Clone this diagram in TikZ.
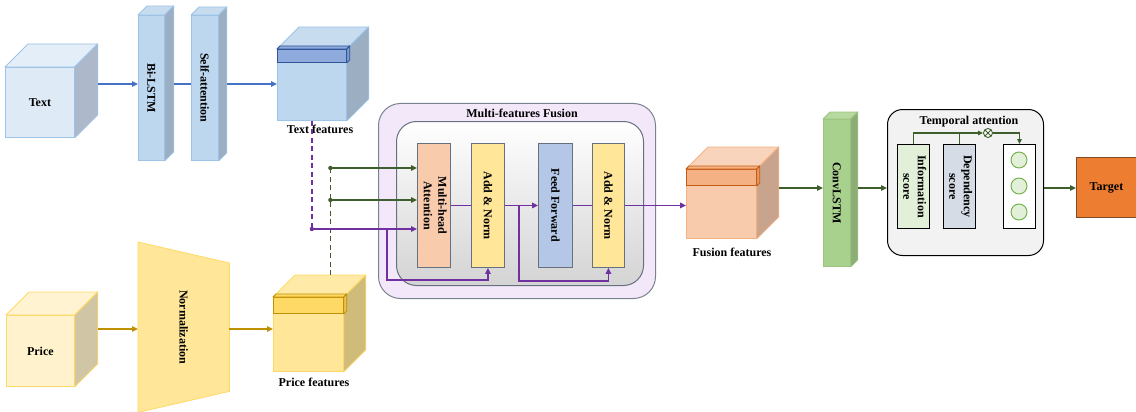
\documentclass[tikz,border=0pt]{standalone}
\usepackage{fontspec}
\setmainfont{Liberation Serif}
\usetikzlibrary{arrows.meta,backgrounds}

% palette
\definecolor{flowBlue}{HTML}{4472C4}
\definecolor{flowGold}{HTML}{BF9000}
\definecolor{flowPurple}{HTML}{7030A0}
\definecolor{flowGreen}{HTML}{3E5F2C}
\definecolor{txFront}{HTML}{DEEBF7}
\definecolor{txTop}{HTML}{E4EEF8}
\definecolor{txSide}{HTML}{ADB9CA}
\definecolor{txBorder}{HTML}{9DC3E6}
\definecolor{lyFront}{HTML}{BDD7EE}
\definecolor{lyTop}{HTML}{C8DCF0}
\definecolor{lySide}{HTML}{9BAEC2}
\definecolor{bandBlue}{HTML}{8FAADC}
\definecolor{bandBlueSide}{HTML}{7F9BD0}
\definecolor{bandBlueBorder}{HTML}{2F5597}
\definecolor{prFront}{HTML}{FFF2CC}
\definecolor{prTop}{HTML}{FFF3D1}
\definecolor{prSide}{HTML}{D0C6A5}
\definecolor{prBorder}{HTML}{FFD966}
\definecolor{nmFill}{HTML}{FFE699}
\definecolor{pfFront}{HTML}{FFE699}
\definecolor{pfTop}{HTML}{FFEAA8}
\definecolor{pfSide}{HTML}{CFBB7A}
\definecolor{bandGold}{HTML}{FFD966}
\definecolor{bandGoldSide}{HTML}{E8C250}
\definecolor{fuFront}{HTML}{F8CBAD}
\definecolor{fuTop}{HTML}{F9D4BC}
\definecolor{fuSide}{HTML}{C8A48C}
\definecolor{fuBorder}{HTML}{F4B183}
\definecolor{bandOrange}{HTML}{F4B183}
\definecolor{bandOrangeSide}{HTML}{E39A68}
\definecolor{bandOrangeBorder}{HTML}{C55A11}
\definecolor{cvFront}{HTML}{A9D18E}
\definecolor{cvTop}{HTML}{B6D99F}
\definecolor{cvSide}{HTML}{8CAD76}
\definecolor{cvBorder}{HTML}{9CC57F}
\definecolor{mffOuter}{HTML}{F3E7FA}
\definecolor{mffBorder}{HTML}{7A8290}
\definecolor{blkBorder}{HTML}{66707E}
\definecolor{mhaFill}{HTML}{F8CBAD}
\definecolor{anFill}{HTML}{FFE699}
\definecolor{ffFill}{HTML}{B4C7E7}
\definecolor{infoFill}{HTML}{E2F0D9}
\definecolor{depFill}{HTML}{D6DCE5}
\definecolor{ringBorder}{HTML}{70AD47}
\definecolor{taFill}{HTML}{F2F2F2}
\definecolor{targetFill}{HTML}{ED7D31}
\definecolor{targetBorder}{HTML}{7F4A26}

% top and right faces of a box whose front face is the node #1
% #2 depth, #3 top colour, #4 side colour, #5 edge colour
\newcommand\solidfaces[5]{%
  \filldraw[fill=#3, draw=#5, line width=0.8pt, line join=round]
    (#1.north west) -- ([shift={(#2,-#2)}]#1.north west)
    -- ([shift={(#2,-#2)}]#1.north east) -- (#1.north east) -- cycle;
  \filldraw[fill=#4, draw=#5, line width=0.8pt, line join=round]
    (#1.north east) -- ([shift={(#2,-#2)}]#1.north east)
    -- ([shift={(#2,-#2)}]#1.south east) -- (#1.south east) -- cycle;
}

\tikzset{
  frontface/.style={draw=#1, line width=0.8pt, inner sep=0pt, anchor=north west},
  block/.style={draw=blkBorder, line width=0.9pt, inner sep=0pt, anchor=north west,
                minimum height=124pt},
  scorebox/.style={draw=black, line width=1pt, inner sep=0pt, anchor=north west,
                minimum width=32pt, minimum height=84pt},
  tip/.style={-{Triangle[length=6pt,width=5.5pt]}},
  blueline/.style={draw=flowBlue, line width=1.6pt},
  blueflow/.style={blueline, tip},
  goldflow/.style={draw=flowGold, line width=1.6pt, tip},
  purpleline/.style={draw=flowPurple, line width=1.6pt},
  purpleflow/.style={purpleline, tip},
  purpledash/.style={purpleline, dash pattern=on 5pt off 3.5pt},
  greenline/.style={draw=flowGreen, line width=1.6pt},
  greenflow/.style={greenline, tip},
  greendash/.style={greenline, dash pattern=on 5pt off 3.5pt},
  thinline/.style={draw=flowGreen, line width=1.2pt},
  thinflow/.style={thinline, -{Triangle[length=5pt,width=4.5pt]}},
}

\begin{document}
\begin{tikzpicture}[x=1pt, y=-1pt, font=\fontsize{12}{14.5}\selectfont\bfseries]
\useasboundingbox (0,0) rectangle (1136,412);

% ---------- text branch ----------
\node[frontface=txBorder, fill=txFront, minimum width=69pt, minimum height=70pt] (text) at (5,67) {Text};
\solidfaces{text}{23}{txTop}{txSide}{txBorder}

\node[frontface=txBorder, fill=lyFront, minimum width=26pt, minimum height=145pt] (bilstm) at (138,15) {\rotatebox{-90}{Bi-LSTM}};
\solidfaces{bilstm}{9}{lyTop}{lySide}{txBorder}

\node[frontface=txBorder, fill=lyFront, minimum width=27pt, minimum height=145pt] (selfatt) at (191,15) {\rotatebox{-90}{Self-attention}};
\solidfaces{selfatt}{8}{lyTop}{lySide}{txBorder}

\node[frontface=txBorder, fill=lyFront, minimum width=69pt, minimum height=71pt] (tfeat) at (277,49) {};
\solidfaces{tfeat}{22}{lyTop}{lySide}{txBorder}
\node[frontface=bandBlueBorder, fill=bandBlue, minimum width=69pt, minimum height=13pt] (tband) at (277,49) {};
\solidfaces{tband}{3}{bandBlue}{bandBlueSide}{bandBlueBorder}
\node (tfeatlabel) at (320,129) {Text features};

% ---------- price branch ----------
\node[frontface=prBorder, fill=prFront, minimum width=68pt, minimum height=71pt] (price) at (6,315) {Price};
\solidfaces{price}{23}{prTop}{prSide}{prBorder}

\node[minimum width=91pt, minimum height=170pt, inner sep=0pt, anchor=north west] (norm) at (138,242) {\rotatebox{-90}{Normalization}};
\begin{pgfonlayer}{background}
  \filldraw[fill=nmFill, draw=prBorder, line width=0.8pt, line join=round]
    (norm.north west) -- ([yshift=-21pt]norm.north east)
    -- ([yshift=21pt]norm.south east) -- (norm.south west) -- cycle;
\end{pgfonlayer}

\node[frontface=prBorder, fill=pfFront, minimum width=70pt, minimum height=74pt] (pfeat) at (273,297) {};
\solidfaces{pfeat}{22}{pfTop}{pfSide}{prBorder}
\node[frontface=flowGold, fill=bandGold, minimum width=70pt, minimum height=16pt] (pband) at (273,297) {};
\solidfaces{pband}{3}{bandGold}{bandGoldSide}{flowGold}
\node (pfeatlabel) at (314,382) {Price features};

% ---------- multi-features fusion ----------
\node[draw=mffBorder, fill=mffOuter, line width=1pt, rounded corners=22pt, inner sep=0pt,
      anchor=north west, minimum width=277pt, minimum height=195pt] (mff) at (378,103) {};
\node (mfftitle) at (522,113) {Multi-features Fusion};
\node[draw=blkBorder, line width=1pt, rounded corners=20pt, inner sep=0pt, anchor=north west,
      top color=white, bottom color=black!17, minimum width=247pt, minimum height=164pt] (mffin) at (396,121) {};

\node[block, fill=mhaFill, minimum width=33pt] (mha) at (417,143)
  {\rotatebox{-90}{\begin{tabular}{@{}c@{}}Multi-head\\Attention\end{tabular}}};
\node[block, fill=anFill, minimum width=33pt] (an1) at (471,143) {\rotatebox{-90}{Add \& Norm}};
\node[block, fill=ffFill, minimum width=34pt] (ff) at (538,143) {\rotatebox{-90}{Feed Forward}};
\node[block, fill=anFill, minimum width=32pt] (an2) at (592,143) {\rotatebox{-90}{Add \& Norm}};

% ---------- fusion features and ConvLSTM ----------
\node[frontface=fuBorder, fill=fuFront, minimum width=70pt, minimum height=69pt] (fus) at (686,169) {};
\solidfaces{fus}{22}{fuTop}{fuSide}{fuBorder}
\node[frontface=bandOrangeBorder, fill=bandOrange, minimum width=70pt, minimum height=16pt] (fband) at (686,169) {};
\solidfaces{fband}{3}{bandOrange}{bandOrangeSide}{bandOrangeBorder}
\node (fuslabel) at (732,252) {Fusion features};

\node[frontface=cvBorder, fill=cvFront, minimum width=27pt, minimum height=147pt] (conv) at (823,119) {\rotatebox{-90}{ConvLSTM}};
\solidfaces{conv}{7}{cvTop}{cvSide}{cvBorder}

% ---------- temporal attention ----------
\node[draw=black, fill=taFill, line width=1pt, rounded corners=15pt, inner sep=0pt, anchor=north west,
      minimum width=156pt, minimum height=146pt] (ta) at (887,109) {};
\node (tatitle) at (969,122) {Temporal attention};
\node[scorebox, fill=infoFill] (info) at (897,144)
  {\rotatebox{-90}{\begin{tabular}{@{}c@{}}Information\\score\end{tabular}}};
\node[scorebox, fill=depFill] (dep) at (943,144)
  {\rotatebox{-90}{\begin{tabular}{@{}c@{}}Dependency\\score\end{tabular}}};
\node[scorebox, fill=white] (cbox) at (1003,144) {};
\node[circle, draw=ringBorder, fill=infoFill, line width=0.9pt, minimum size=16pt, inner sep=0pt] (c1) at (1019,160) {};
\node[circle, draw=ringBorder, fill=infoFill, line width=0.9pt, minimum size=16pt, inner sep=0pt] (c2) at (1019,186) {};
\node[circle, draw=ringBorder, fill=infoFill, line width=0.9pt, minimum size=16pt, inner sep=0pt] (c3) at (1019,212) {};
\node[circle, draw=flowGreen, fill=white, line width=0.9pt, minimum size=9pt, inner sep=0pt,
      path picture={\draw[flowGreen, line width=0.9pt]
        (path picture bounding box.north west) -- (path picture bounding box.south east)
        (path picture bounding box.north east) -- (path picture bounding box.south west);}] (otimes) at (988,133) {};

\node[draw=targetBorder, fill=targetFill, line width=1pt, inner sep=0pt, anchor=north west,
      minimum width=60pt, minimum height=60pt] (target) at (1076,157) {Target};

% ---------- connectors ----------
\coordinate (rowT) at (0,84);
\coordinate (rowP) at (0,329);
\coordinate (rowF) at (0,188);
\coordinate (rowA) at (0,229);
\coordinate (rowG1) at (0,168);
\coordinate (rowG2) at (0,200);

\coordinate (textback) at ([xshift=23pt]text.east);
\coordinate (bilback) at ([xshift=9pt]bilstm.east);
\coordinate (saback) at ([xshift=8pt]selfatt.east);
\draw[blueflow] (textback |- rowT) -- (bilstm.west |- rowT);
\draw[blueline] (bilback |- rowT) -- (selfatt.west |- rowT);
\draw[blueflow] (saback |- rowT) -- (tfeat.west |- rowT);

\coordinate (priceback) at ([xshift=23pt]price.east);
\draw[goldflow] (priceback |- rowP) -- (norm.west |- rowP);
\draw[goldflow] (norm.east |- rowP) -- (pfeat.west |- rowP);

% price features feed the attention block
\coordinate (pftop) at ([shift={(22,-22)}]pfeat.north);
\coordinate (gdot1) at (pftop |- rowG1);
\coordinate (gdot2) at (pftop |- rowG2);
\draw[greendash] (pftop) -- (gdot1);
\draw[greenflow] (gdot1) -- (gdot1 -| mha.west);
\draw[greenflow] (gdot2) -- (gdot2 -| mha.west);
\fill[flowGreen] (gdot1) circle (2.2pt) (gdot2) circle (2.2pt);

% text features feed the attention block
\coordinate (pdot) at (tfeat.south |- rowA);
\draw[purpledash] (tfeat.south) -- (pdot);
\draw[purpleflow] (pdot) -- (mha.west |- pdot);
\fill[flowPurple] (pdot) circle (2.2pt);
\coordinate (pbr1) at (387,229);
\draw[purpleflow] (pbr1) |- ([yshift=-12pt]an1.south) -- (an1.south);

\draw[purpleline] (mha.east) -- (an1.west);
\draw[purpleflow] (an1.east) -- (ff.west);
\draw[purpleline] (ff.east) -- (an2.west);
\draw[purpleflow] (an2.east) -- (an2.east -| fus.west);
\coordinate (pbr2) at (519,0);
\draw[purpleflow] (pbr2 |- an1.east) |- ([yshift=-13pt]an2.south) -- (an2.south);

\coordinate (fusback) at ([xshift=22pt]fus.east);
\coordinate (convback) at ([xshift=7pt]conv.east);
\draw[greenflow] (fusback |- rowF) -- (conv.west |- rowF);
\draw[greenflow] (convback |- rowF) -- (ta.west |- rowF);
\draw[greenflow] (ta.east |- rowF) -- (target.west |- rowF);

\draw[thinflow] (info.north) |- (otimes.west);
\draw[thinline] (dep.north) -- (dep.north |- otimes.west);
\draw[thinflow] (otimes.east) -| (cbox.north);

\end{tikzpicture}
\end{document}
